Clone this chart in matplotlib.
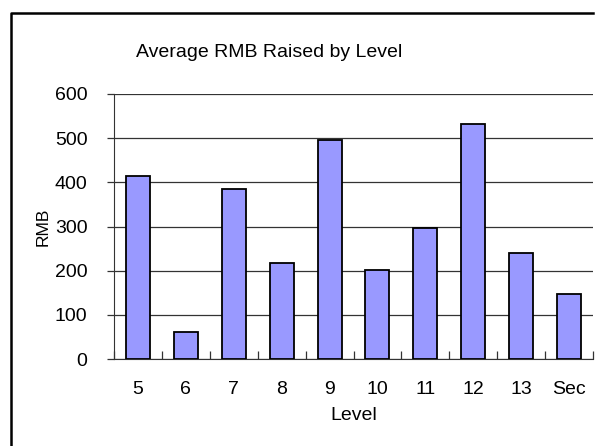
import matplotlib.pyplot as plt
import numpy as np
from matplotlib.lines import Line2D

# =========================
# DATA
# =========================
levels = ["5", "6", "7", "8", "9", "10", "11", "12", "13", "Sec"]
avg_rmb = [415, 62, 384, 218, 496, 202, 297, 532, 240, 148]
y_ticks = [0, 100, 200, 300, 400, 500, 600]

SANS = "Liberation Sans"
BAR_COLOR = "#9999FF"

# =========================
# FIGURE
# =========================
W, H = 596, 446
fig = plt.figure(figsize=(W / 100, H / 100), dpi=100)

# chart area border (cut off at the right / bottom of the image)
bx0, by0, bx1 = 11 / W, 1 - 13 / H, 593 / W
fig.lines.append(Line2D([bx0, bx0, bx1], [0, by0, by0], transform=fig.transFigure,
                        color="black", linewidth=1.8))

left, right, top, bottom = 114, 593, 94, 359
ax = fig.add_axes([left / W, 1 - bottom / H, (right - left) / W, (bottom - top) / H])

x = np.arange(len(levels))
ax.bar(x, avg_rmb, width=0.5, color=BAR_COLOR, edgecolor="black",
       linewidth=1.3, zorder=3)

ax.set_xlim(-0.5, len(levels) - 0.5)
ax.set_ylim(0, 600)
ax.set_yticks(y_ticks)
ax.set_yticklabels([str(v) for v in y_ticks], fontsize=14, family=SANS)
ax.yaxis.grid(True, color="#333333", linewidth=0.9, zorder=0)

# category labels without ticks, boundary ticks pointing inward
ax.set_xticks(x)
ax.set_xticklabels(levels, fontsize=14, family=SANS)
ax.tick_params(axis="x", which="major", length=0, pad=16)
ax.set_xticks(np.arange(len(levels) + 1) - 0.5, minor=True)
ax.tick_params(axis="x", which="minor", direction="in", length=6, width=0.9,
               color="#333333")
ax.tick_params(axis="y", direction="out", length=5, width=0.9,
               color="#333333", pad=14)

for side in ["top", "right"]:
    ax.spines[side].set_visible(False)
ax.spines["left"].set_color("#333333")
ax.spines["bottom"].set_color("#333333")

ax.set_xlabel("Level", fontsize=14, family=SANS, labelpad=6)
ax.set_ylabel("RMB", fontsize=12.5, family=SANS, labelpad=3)

fig.text(269 / W, 1 - 57 / H, "Average RMB Raised by Level", ha="center",
         va="baseline", fontsize=14, family=SANS)

fig.savefig("out.png", dpi=100)
